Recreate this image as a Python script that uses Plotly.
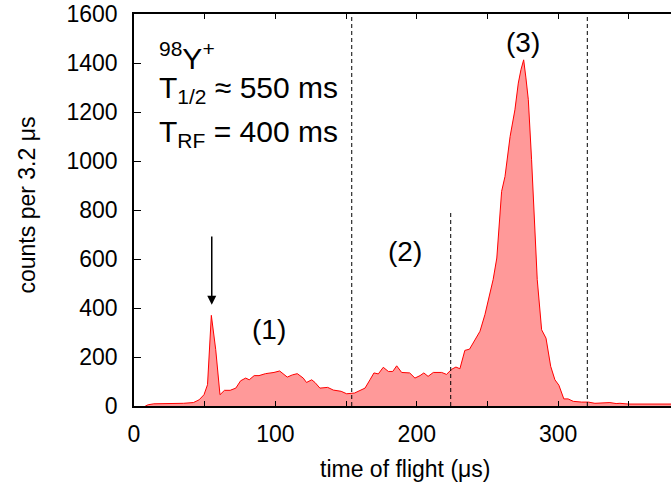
import plotly.graph_objects as go

# time of flight (us) and counts per 3.2 us
tof = [8, 10, 14, 21, 28, 35, 42, 46, 49.5, 52, 54.7, 57.8, 60.8, 64, 68, 72, 75.4, 79, 81.5,
       85, 88.4, 93, 99, 103, 108.4, 112, 115.5, 119.7, 122, 125.7, 128, 131.5, 137, 141,
       146.5, 150.4, 156, 159.8, 163.4, 166.9, 169.7, 172.8, 176.3, 179.9, 183, 185.8, 189.3,
       195, 198.7, 202.3, 205, 208, 211.7, 217.6, 221, 224.7, 227.7, 230.5, 234, 237.3, 241,
       244.7, 248.2, 251.8, 254, 256.6, 258.4, 260, 262.4, 266, 269.4, 271.8, 273.7, 275.6,
       277.2, 278.9, 281.2, 283.6, 285.2, 288.3, 291.4, 294.7, 297.7, 300.5, 304, 307, 310.7,
       316.6, 321.3, 326, 332, 336.6, 341, 343.7, 349.6, 358, 365, 372, 378, 385, 392, 400]
counts = [0, 5, 9, 10, 8, 11, 14, 25, 46, 87, 370, 230, 46, 64, 64, 73, 103, 114, 107,
          124, 124, 132, 137, 143, 118, 127, 132, 114, 96, 107, 96, 73, 76, 65,
          60, 50, 53, 64, 73, 107, 135, 131, 158, 141, 141, 164, 137,
          135, 114, 124, 135, 121, 137, 137, 129, 150, 159, 152, 227, 232, 271,
          305, 373, 461, 516, 604, 774, 876, 937, 1100, 1209, 1318, 1373, 1413,
          1339, 1250, 1005, 707, 516, 311, 277, 162, 107, 85, 29, 29, 19,
          16, 16, 11, 11, 14, 10, 11, 8, 8, 9, 7, 10, 8, 9, 8]

# region boundaries (dashed lines): x position, top value
cut_x = [154, 224, 320.6]
cut_top = [1600, 800, 1600]

# region labels
lab_text = ["(1)", "(2)", "(3)"]
lab_x = [95.5, 192, 275]
lab_y = [311, 631, 1484]

FONT = "Liberation Sans, Arial, sans-serif"

fig = go.Figure()
fig.add_trace(go.Scatter(
    x=tof, y=counts, mode="lines", fill="tozeroy",
    line=dict(color="#ff0000", width=1), fillcolor="#ff9999",
    showlegend=False, hoverinfo="skip"))

for cx, ct in zip(cut_x, cut_top):
    fig.add_shape(type="line", x0=cx, x1=cx, y0=0, y1=ct, xref="x", yref="y",
                  line=dict(color="black", width=1, dash="4px,3px"), layer="above")

for t, lx, ly in zip(lab_text, lab_x, lab_y):
    fig.add_annotation(x=lx, y=ly, text=t, showarrow=False,
                       font=dict(size=28, family=FONT, color="black"))

# arrow pointing at peak
fig.add_annotation(x=55, y=413, ax=55, ay=698, axref="x", ayref="y", xref="x", yref="y",
                   text="", showarrow=True, arrowhead=2, arrowsize=1.2, arrowwidth=1.5,
                   arrowcolor="black")

info = ["<sup>98</sup>Y<sup>+</sup>", "T<sub>1/2</sub> ≈ 550 ms", "T<sub>RF</sub> = 400 ms"]
info_y = [1430, 1290, 1112]
for t, yy in zip(info, info_y):
    fig.add_annotation(x=16.0, y=yy, text=t, showarrow=False, xanchor="left", yanchor="middle",
                       font=dict(size=30, family=FONT, color="black"))

fig.add_annotation(x=-0.2, y=0.513, xref="paper", yref="paper", text="counts per 3.2 μs",
                   textangle=-90, showarrow=False, xanchor="center", yanchor="middle",
                   font=dict(size=23, family=FONT, color="black"))
fig.add_annotation(x=0.5047, y=-0.16, xref="paper", yref="paper", text="time of flight (μs)",
                   showarrow=False, xanchor="center", yanchor="middle",
                   font=dict(size=23, family=FONT, color="black"))

fig.update_layout(
    width=671, height=488,
    margin=dict(l=134, r=0, t=14, b=82),
    plot_bgcolor="white", paper_bgcolor="white",
    font=dict(family=FONT, size=23, color="black"),
    xaxis=dict(range=[0, 379.8], dtick=100, tick0=0, showgrid=False, zeroline=False,
               showline=True, linecolor="black", linewidth=1.5, mirror="ticks",
               ticks="inside", ticklen=5, tickcolor="black",
               minor=dict(dtick=50, ticks="inside", ticklen=5, tickcolor="black"),
               ticklabelstandoff=7),
    yaxis=dict(range=[0, 1600], dtick=200, showgrid=False, zeroline=False,
               showline=True, linecolor="black", linewidth=1.5,
               ticks="inside", ticklen=7, tickcolor="black", ticklabelstandoff=10),
)

fig.write_html("out.html")
